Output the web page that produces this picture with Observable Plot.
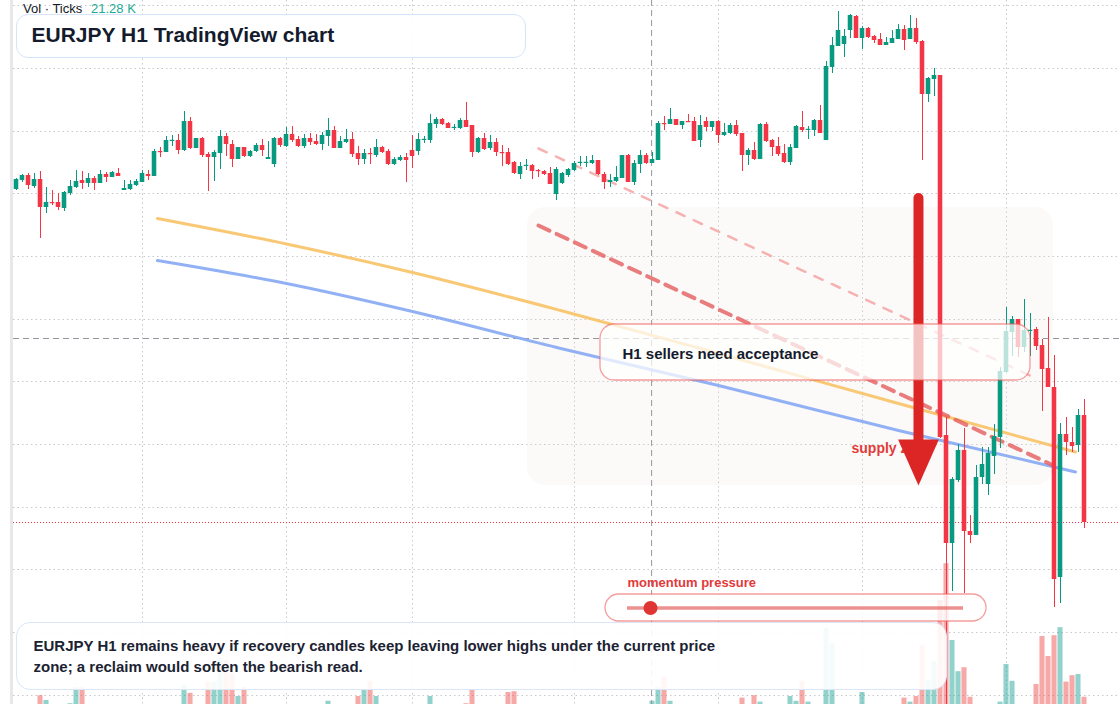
<!DOCTYPE html>
<html><head><meta charset="utf-8">
<script src="https://cdn.jsdelivr.net/npm/d3@7"></script>
<script src="https://cdn.jsdelivr.net/npm/@observablehq/plot@0.6"></script>
<style>
html,body{margin:0;padding:0;background:#fff;overflow:hidden;}
#wrap{position:relative;width:1120px;height:704px;overflow:hidden;font-family:"Liberation Sans",Arial,sans-serif;}
#strip{position:absolute;left:10px;top:0;width:3px;height:704px;background:#e8e8ea;}
#chart{position:absolute;left:0;top:0;}
.lbl{position:absolute;top:1px;font-size:13px;line-height:15px;white-space:nowrap;}
#title{position:absolute;left:16px;top:14px;width:510px;height:44px;box-sizing:border-box;border:1.5px solid #d6e4f9;border-radius:12px;background:rgba(255,255,255,0.93);}
#title div{position:absolute;left:14.5px;top:9px;font-size:21px;line-height:21px;font-weight:bold;color:#141b2d;white-space:nowrap;}
#caption{position:absolute;left:16px;top:622px;width:931px;height:68px;box-sizing:border-box;border:1.5px solid #dbe6f8;border-radius:14px;background:rgba(255,255,255,0.9);padding:12px 0 0 16.5px;font-size:15px;line-height:21px;font-weight:bold;color:#1b2333;}
</style>
</head><body>
<div id="wrap">
  <div id="strip"></div>
  <div id="chart"></div>
  <div class="lbl" style="left:23px;color:#131722">Vol · Ticks</div>
  <div class="lbl" style="left:91px;color:#22ab94">21.28 K</div>
  <div id="title"><div>EURJPY H1 TradingView chart</div></div>
  <div id="caption">EURJPY H1 remains heavy if recovery candles keep leaving lower highs under the current price<br>zone; a reclaim would soften the bearish read.</div>
</div>
<script>
// ---- candle data (H1 bars, index 0..178) ----
const opens = [168.11,168.20,168.25,168.14,168.21,167.93,167.98,167.98,167.92,168.07,
168.13,168.20,168.17,168.22,168.17,168.26,168.23,168.27,168.10,168.11,
168.15,168.18,168.26,168.24,168.49,168.48,168.59,168.60,168.50,168.79,
168.52,168.62,168.46,168.43,168.47,168.64,168.56,168.41,168.53,168.44,
168.49,168.55,168.41,168.36,168.62,168.54,168.66,168.61,168.54,168.62,
168.59,168.56,168.64,168.70,168.52,168.58,168.61,168.47,168.41,168.47,
168.45,168.53,168.49,168.36,168.40,168.43,168.50,168.49,168.60,168.60,
168.76,168.81,168.77,168.72,168.72,168.80,168.75,168.48,168.62,168.52,
168.58,168.48,168.48,168.38,168.26,168.34,168.35,168.30,168.29,168.27,
168.06,168.17,168.25,168.30,168.37,168.37,168.37,168.40,168.26,168.18,
168.19,168.22,168.45,168.18,168.36,168.45,168.37,168.40,168.77,168.76,
168.81,168.75,168.79,168.79,168.60,168.79,168.73,168.79,168.65,168.67,
168.75,168.67,168.45,168.50,168.41,168.76,168.60,168.54,168.47,168.38,
168.52,168.73,168.70,168.70,168.80,168.60,169.33,169.54,169.56,169.70,
169.84,169.62,169.72,169.64,169.61,169.55,169.57,169.61,169.71,169.61,
169.72,169.59,169.06,169.21,169.25,165.65,164.57,165.20,165.50,164.69,
164.65,165.23,165.16,165.44,165.63,166.28,166.68,166.81,166.53,166.69,
166.71,166.55,166.32,166.13,164.23,165.66,165.58,165.55,165.85];
const highs = [168.22,168.26,168.27,168.27,168.29,168.13,168.10,168.07,168.09,168.20,
168.30,168.29,168.27,168.24,168.30,168.28,168.29,168.32,168.20,168.20,
168.21,168.30,168.30,168.51,168.53,168.64,168.65,168.66,168.89,168.83,
168.62,168.63,168.48,168.50,168.70,168.67,168.60,168.53,168.53,168.50,
168.57,168.61,168.59,168.63,168.63,168.73,168.74,168.64,168.66,168.67,
168.66,168.68,168.82,168.74,168.64,168.71,168.68,168.54,168.51,168.52,
168.61,168.54,168.51,168.43,168.45,168.47,168.65,168.67,168.64,168.86,
168.83,168.82,168.78,168.76,168.82,168.98,168.75,168.63,168.67,168.65,
168.62,168.55,168.52,168.39,168.38,168.41,168.36,168.31,168.30,168.33,
168.33,168.28,168.32,168.39,168.44,168.44,168.45,168.40,168.28,168.26,
168.34,168.45,168.46,168.40,168.50,168.47,168.48,168.79,168.84,168.92,
168.81,168.79,168.86,168.83,168.85,168.83,168.79,168.80,168.77,168.77,
168.80,168.67,168.52,168.58,168.77,168.78,168.61,168.63,168.56,168.56,
168.75,168.89,168.74,168.81,168.95,169.39,169.63,169.89,169.71,169.86,
169.85,169.74,169.73,169.65,169.67,169.63,169.70,169.76,169.75,169.85,
169.82,169.60,169.23,169.32,169.25,165.83,165.23,165.56,165.72,164.85,
165.35,165.53,165.53,165.76,166.33,166.93,166.84,166.81,167.01,166.87,
166.73,166.61,166.83,166.45,165.77,165.83,165.73,165.91,166.01];
const lows = [168.10,168.18,168.11,168.12,167.62,167.87,167.95,167.90,167.89,168.05,
168.12,168.11,168.13,168.10,168.17,168.18,168.23,168.24,168.10,168.10,
168.14,168.18,168.20,168.24,168.43,168.48,168.54,168.46,168.49,168.51,
168.52,168.43,168.09,168.19,168.31,168.44,168.33,168.41,168.43,168.43,
168.48,168.44,168.41,168.33,168.53,168.53,168.58,168.53,168.52,168.55,
168.55,168.50,168.54,168.52,168.52,168.57,168.43,168.35,168.36,168.36,
168.43,168.47,168.35,168.35,168.39,168.18,168.32,168.45,168.57,168.57,
168.72,168.75,168.72,168.70,168.71,168.73,168.43,168.47,168.50,168.50,
168.44,168.34,168.35,168.26,168.21,168.30,168.21,168.23,168.25,168.16,
168.00,168.16,168.23,168.29,168.34,168.33,168.36,168.25,168.11,168.13,
168.18,168.22,168.18,168.15,168.27,168.36,168.37,168.40,168.70,168.76,
168.75,168.71,168.78,168.59,168.53,168.69,168.69,168.57,168.64,168.66,
168.64,168.29,168.35,168.40,168.41,168.58,168.44,168.44,168.37,168.35,
168.52,168.68,168.61,168.64,168.67,168.60,169.27,169.54,169.43,169.62,
169.62,169.51,169.62,169.57,169.55,169.55,169.57,169.61,169.50,169.61,
169.56,168.40,168.98,169.04,165.62,162.95,164.09,165.18,164.07,164.57,
164.65,165.16,165.05,165.26,165.52,166.27,166.44,166.43,166.48,166.44,
166.50,165.89,166.13,163.93,163.97,165.45,165.48,165.48,164.72];
const closes = [168.21,168.25,168.15,168.21,167.93,167.98,167.97,167.93,168.08,168.14,
168.19,168.17,168.22,168.17,168.26,168.23,168.28,168.24,168.12,168.16,
168.19,168.27,168.24,168.49,168.48,168.60,168.60,168.50,168.79,168.52,
168.62,168.45,168.43,168.48,168.64,168.56,168.41,168.53,168.44,168.49,
168.55,168.50,168.43,168.62,168.55,168.66,168.60,168.54,168.62,168.58,
168.56,168.65,168.70,168.52,168.59,168.61,168.46,168.41,168.47,168.46,
168.53,168.48,168.36,168.41,168.43,168.40,168.44,168.61,168.61,168.77,
168.81,168.76,168.72,168.73,168.80,168.73,168.48,168.62,168.51,168.58,
168.48,168.47,168.36,168.27,168.34,168.35,168.29,168.29,168.26,168.16,
168.31,168.27,168.31,168.37,168.38,168.38,168.40,168.26,168.18,168.20,
168.23,168.45,168.18,168.37,168.45,168.37,168.41,168.77,168.76,168.81,
168.75,168.79,168.78,168.59,168.75,168.73,168.79,168.65,168.68,168.75,
168.66,168.45,168.50,168.41,168.76,168.59,168.53,168.46,168.38,168.53,
168.74,168.70,168.71,168.80,168.67,169.34,169.55,169.70,169.64,169.85,
169.62,169.72,169.63,169.60,169.55,169.58,169.62,169.71,169.60,169.72,
169.58,169.06,169.22,169.25,165.63,164.57,165.21,165.50,164.69,164.65,
165.23,165.36,165.47,165.64,166.29,166.69,166.81,166.53,166.70,166.70,
166.54,166.31,166.13,164.21,165.66,165.58,165.54,165.85,164.78];
// tick volume, thousands
const volumes = [0.6,0.6,0.6,0.6,2.1,1.5,0.6,0.6,0.6,1.1,
3.1,3.1,0.6,0.6,0.6,0.6,0.6,0.6,0.6,0.6,
0.6,0.6,0.6,0.6,0.6,0.6,0.6,0.6,3.4,2.4,
0.6,0.6,3.8,3.8,6.8,6.5,4.9,2.0,3.1,0.6,
0.6,0.6,0.6,0.6,0.6,0.6,0.6,0.6,0.6,0.6,
0.6,0.6,1.4,0.6,0.6,0.6,0.6,2.0,2.8,3.9,
2.0,0.6,0.6,0.6,0.6,0.6,0.6,0.6,0.6,2.0,
0.6,0.6,0.6,0.6,0.6,1.1,2.8,0.6,0.6,0.6,
0.6,0.6,2.5,2.6,0.6,0.6,0.6,0.6,0.6,0.6,
0.6,0.6,0.6,0.6,0.6,0.6,0.6,0.6,0.6,0.6,
0.6,0.6,0.6,0.6,0.6,0.6,1.4,3.1,4.4,1.4,
0.6,0.6,0.6,0.6,0.6,0.6,0.6,0.6,0.6,0.6,
0.6,1.8,0.6,2.1,1.3,0.6,0.6,0.6,0.6,2.0,
1.4,3.9,1.3,0.6,0.6,10.5,8.6,0.6,0.6,0.6,
0.6,2.5,0.6,0.6,0.6,0.6,0.6,0.6,1.8,1.3,
2.0,8.4,4.0,6.4,14.0,18.6,9.0,5.1,5.6,1.9,
0.6,0.6,0.6,0.6,1.3,6.0,3.9,0.6,0.6,0.6,
3.5,9.5,7.0,9.6,10.6,3.8,4.6,4.75,1.9];

// moving averages (sampled at bar index)
const maIndex = [23.5, 45, 66, 90.7, 117, 147, 176.5];
const maOrange = [167.82, 167.565, 167.28, 166.90, 166.47, 165.97, 165.485];
const maBlue   = [167.40, 167.17, 166.89, 166.52, 166.15, 165.70, 165.285];

// trend lines: [startIndex, startPrice, endIndex, endPrice]
const trendMain  = [87, 167.75, 172.83, 165.35];
const trendUpper = [87, 168.52, 170.33, 166.21];

// grid, crosshair, zone
const gridPrices = [169.95,169.32,168.69,168.07,167.44,166.81,166.19,165.56,164.93,164.31,163.68,163.05];
const gridIndex = [21, 45, 66, 93, 117, 141, 165];
const crossIndex = 105.85, crossPrice = 166.62;
const supplyZone = {i1: 85.17, i2: 172.83, top: 167.93, bottom: 165.15};
const arrowAt = {i: 150.33, from: 168.02, base: 165.60, to: 165.15};

const n = opens.length;
const bars = d3.range(n).map(i => ({i, o: opens[i], h: highs[i], l: lows[i], c: closes[i], v: volumes[i]}));
const UP = "#089981", DN = "#f23645";
const isUp = d => d.c >= d.o;
const bodyEnd = d => Math.abs(d.c - d.o) < 0.012 ? d.o + (isUp(d) ? 0.012 : -0.012) : d.c;
const volY = d3.scaleLinear([0, 10], [162.88, 163.68]);
const lastClose = closes[n - 1];
const RED = "#dc2626";

const headHalf = 3.4; // bar units
const arrowHead = [
  {x: arrowAt.i - headHalf, y: arrowAt.base + 0.01},
  {x: arrowAt.i + headHalf, y: arrowAt.base + 0.01},
  {x: arrowAt.i, y: arrowAt.to}
];

const chart = Plot.plot({
  width: 1120, height: 704,
  marginLeft: 13, marginRight: 0, marginTop: 0, marginBottom: 0,
  x: {type: "linear", domain: [-0.5, 184], axis: null},
  y: {type: "linear", domain: [162.96, 170], axis: null},
  style: {background: "transparent", fontFamily: "Liberation Sans, Arial, sans-serif"},
  marks: [
    Plot.ruleY(gridPrices, {stroke: "#c6c8cc", strokeDasharray: "1.5,3"}),
    Plot.ruleX(gridIndex, {stroke: "#c6c8cc", strokeDasharray: "1.5,3"}),
    Plot.rect([supplyZone], {x1: "i1", x2: "i2", y1: "bottom", y2: "top", rx: 18, fill: "#ede0d6", fillOpacity: 0.16}),
    Plot.rect(bars, {x1: d => d.i - 0.42, x2: d => d.i + 0.42, y1: () => volY(0), y2: d => volY(d.v),
      fill: d => isUp(d) ? "#26a69a" : "#ef5350", fillOpacity: 0.5}),
    Plot.ruleX([crossIndex], {stroke: "#9598a1", strokeDasharray: "6,4"}),
    Plot.ruleY([crossPrice], {stroke: "#9598a1", strokeDasharray: "6,4"}),
    Plot.ruleY([lastClose], {stroke: DN, strokeDasharray: "1,2"}),
    Plot.line(maIndex.map((x, k) => ({x, y: maOrange[k]})), {x: "x", y: "y", stroke: "#f8c266", strokeOpacity: 0.9, strokeWidth: 3, curve: "monotone-x"}),
    Plot.line(maIndex.map((x, k) => ({x, y: maBlue[k]})), {x: "x", y: "y", stroke: "#86a8f4", strokeOpacity: 0.9, strokeWidth: 3, curve: "monotone-x"}),
    Plot.line([{x: trendUpper[0], y: trendUpper[1]}, {x: trendUpper[2], y: trendUpper[3]}], {x: "x", y: "y", stroke: "#f19a9a", strokeOpacity: 0.75, strokeWidth: 2.5, strokeDasharray: "9,10"}),
    Plot.line([{x: trendMain[0], y: trendMain[1]}, {x: trendMain[2], y: trendMain[3]}], {x: "x", y: "y", stroke: "#e45c5c", strokeOpacity: 0.8, strokeWidth: 4, strokeDasharray: "12,8"}),
    Plot.ruleX(bars, {x: "i", y1: "l", y2: "h", stroke: d => isUp(d) ? UP : DN, strokeWidth: 1}),
    Plot.rect(bars, {x1: d => d.i - 0.38, x2: d => d.i + 0.38, y1: "o", y2: bodyEnd, fill: d => isUp(d) ? UP : DN}),
    Plot.text([{x: 139.17, y: 165.52}], {x: "x", y: "y", text: () => "supply zone", textAnchor: "start", fill: "#e23a3a", fontWeight: "bold", fontSize: 14}),
    Plot.ruleX([arrowAt], {x: "i", y1: "base", y2: "from", stroke: RED, strokeWidth: 10, strokeLinecap: "round"}),
    Plot.line(arrowHead, {x: "x", y: "y", fill: RED, stroke: "none"}),
    Plot.rect([{x1: 97.33, x2: 169, y1: 166.20, y2: 166.76}], {x1: "x1", x2: "x2", y1: "y1", y2: "y2", rx: 14, fill: "white", fillOpacity: 0.72, stroke: "#ec5b5b", strokeOpacity: 0.6, strokeWidth: 1.3}),
    Plot.text([{x: 101, y: 166.465}], {x: "x", y: "y", text: () => "H1 sellers need acceptance", textAnchor: "start", fill: "#141b2d", fontWeight: "bold", fontSize: 15}),
    Plot.text([{x: 101.83, y: 164.18}], {x: "x", y: "y", text: () => "momentum pressure", textAnchor: "start", fill: "#e23a3a", fontWeight: "bold", fontSize: 13}),
    Plot.rect([{x1: 98.17, x2: 161.67, y1: 163.79, y2: 164.06}], {x1: "x1", x2: "x2", y1: "y1", y2: "y2", rx: 13.5, fill: "white", fillOpacity: 0.8, stroke: "#ec5b5b", strokeOpacity: 0.6, strokeWidth: 1.3}),
    Plot.ruleY([163.925], {x1: 101.83, x2: 157.83, stroke: "#e25555", strokeOpacity: 0.65, strokeWidth: 3.5}),
    Plot.dot([{x: 105.67, y: 163.925}], {x: "x", y: "y", r: 7, fill: "#e03535", stroke: "none"})
  ]
});
document.getElementById("chart").appendChild(chart);
</script>
</body></html>
